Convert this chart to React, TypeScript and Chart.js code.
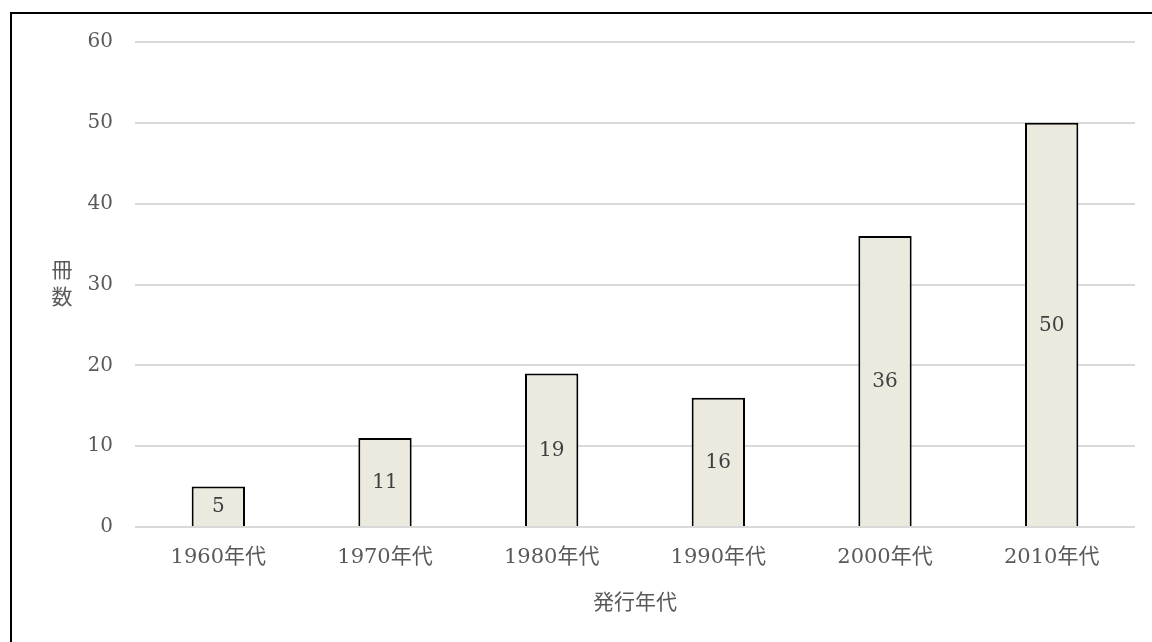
import React, { useEffect, useRef } from "react";
import { Chart, registerables } from "chart.js";

Chart.register(...registerables);

const categories = ["1960年代", "1970年代", "1980年代", "1990年代", "2000年代", "2010年代"];
const counts = [5, 11, 19, 16, 36, 50];
const yTitleChars = ["冊", "数"];
const xTitle = "発行年代";

const FONT = "'DejaVu Serif', 'Noto Sans CJK JP', serif";
const TEXT = "#595959";

const labelPlugin = {
  id: "customText",
  afterDatasetsDraw(chart: any) {
    const ctx = chart.ctx;
    const meta = chart.getDatasetMeta(0);
    ctx.save();
    ctx.font = `20px ${FONT}`;
    ctx.fillStyle = "#404040";
    ctx.textAlign = "center";
    ctx.textBaseline = "middle";
    meta.data.forEach((bar: any, i: number) => {
      const y = (bar.y + bar.base) / 2;
      ctx.fillText(String(counts[i]), bar.x, y + 1);
    });
    const area = chart.chartArea;
    ctx.fillStyle = TEXT;
    ctx.font = `21px ${FONT}`;
    const midY = (area.top + area.bottom) / 2;
    ctx.fillText(yTitleChars[0], 62, midY - 13);
    ctx.fillText(yTitleChars[1], 62, midY + 14);
    ctx.fillText(xTitle, (area.left + area.right) / 2, 604);
    ctx.restore();
  },
  afterDraw(chart: any) {
    // redraw the zero baseline on top of bars (bars have no bottom edge)
    const ctx = chart.ctx;
    const area = chart.chartArea;
    const y0 = chart.scales.y.getPixelForValue(0);
    ctx.save();
    ctx.strokeStyle = "#d9d9d9";
    ctx.lineWidth = 2;
    ctx.beginPath();
    ctx.moveTo(area.left, y0);
    ctx.lineTo(area.right, y0);
    ctx.stroke();
    ctx.restore();
  },
};

export default function App() {
  const ref = useRef<HTMLCanvasElement>(null);
  useEffect(() => {
    const chart = new Chart(ref.current!, {
      type: "bar",
      data: {
        labels: categories,
        datasets: [
          {
            data: counts,
            backgroundColor: "#eceadf",
            borderColor: "#000000",
            borderWidth: 2,
            borderSkipped: "start",
            categoryPercentage: 1,
            barPercentage: 0.32,
          },
        ],
      },
      options: {
        animation: false,
        responsive: false,
        maintainAspectRatio: false,
        layout: { padding: { left: 0, right: 17, top: 42, bottom: 0 } },
        plugins: { legend: { display: false }, tooltip: { enabled: false } },
        scales: {
          x: {
            grid: { display: false, drawTicks: false },
            border: { display: false },
            ticks: { color: TEXT, font: { family: FONT, size: 21 }, padding: 18, maxRotation: 0 },
            afterFit: (s: any) => {
              s.height = 115;
            },
          },
          y: {
            min: 0,
            max: 60,
            ticks: { stepSize: 10, color: TEXT, font: { family: FONT, size: 20 }, padding: 22 },
            grid: { color: "#d9d9d9", lineWidth: 2, drawTicks: false },
            border: { display: false },
            afterFit: (s: any) => {
              s.width = 135;
            },
          },
        },
      },
      plugins: [labelPlugin],
    });
    return () => chart.destroy();
  }, []);

  return (
    <div style={{ position: "fixed", left: 0, top: 0, width: 1152, height: 642, overflow: "hidden", background: "#fff" }}>
      <div
        style={{
          position: "absolute",
          left: 10,
          top: 12,
          width: 1300,
          height: 800,
          border: "2px solid #000",
        }}
      />
      <canvas ref={ref} width={1152} height={642} style={{ position: "absolute", left: 0, top: 0 }} />
    </div>
  );
}
